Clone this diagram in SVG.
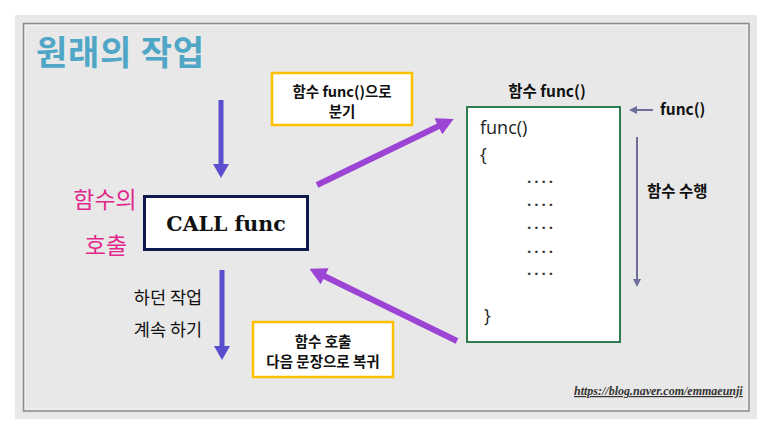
<svg xmlns="http://www.w3.org/2000/svg" width="773" height="435" viewBox="0 0 773 435">
  <style>
    .kr { font-family: "Noto Sans CJK KR", "Noto Sans", sans-serif; }
    .lbl { font-family: "Noto Sans CJK KR", "Noto Sans", sans-serif; font-size: 14.5px; font-weight: bold; fill: #111; text-anchor: middle; }
    .lbl15 { font-family: "Noto Sans CJK KR", "Noto Sans", sans-serif; font-size: 15.5px; font-weight: bold; fill: #111; }
    .hand { font-family: "Noto Sans CJK KR", sans-serif; text-anchor: middle; }
    .code { font-family: "Open Sans", "Noto Sans", sans-serif; font-size: 18px; fill: #222; }
    .dots { font-family: "Open Sans", sans-serif; font-size: 15px; font-weight: bold; fill: #333; letter-spacing: 3px; }
    .note { fill: #fff; stroke: #FFC000; stroke-width: 2.5; }
    .blue { stroke: #5B4ECC; stroke-width: 5; fill: none; }
    .purple { stroke: #9C44D4; stroke-width: 6; fill: none; }
    .slate { stroke: #6E6E9A; stroke-width: 2; fill: none; }
  </style>
  <defs>
    <marker id="headBlue" markerUnits="userSpaceOnUse" markerWidth="14" markerHeight="16" refX="2" refY="8" orient="auto">
      <path d="M0,0 L14,8 L0,16 z" fill="#5B4ECC"/>
    </marker>
    <marker id="headPurple" markerUnits="userSpaceOnUse" markerWidth="17" markerHeight="18" refX="3" refY="9" orient="auto">
      <path d="M0,0 L17,9 L0,18 z" fill="#9C44D4"/>
    </marker>
    <marker id="headSlate" markerUnits="userSpaceOnUse" markerWidth="8" markerHeight="8" refX="1" refY="4" orient="auto">
      <path d="M0,0 L8,4 L0,8 z" fill="#6E6E9A"/>
    </marker>
  </defs>

  <rect x="0" y="0" width="773" height="435" fill="#ffffff"/>
  <rect x="15" y="15" width="742" height="404" fill="#E8E8E8"/>
  <rect x="23.5" y="23.5" width="725.5" height="387.5" fill="none" stroke="#8A8A8A" stroke-width="1.5"/>
  <rect x="25.5" y="25.5" width="721.5" height="383.5" fill="none" stroke="#F4F4F4" stroke-width="1"/>

  <text x="36" y="65" class="kr" font-size="34" font-weight="bold" fill="#4FA6C6" textLength="168" lengthAdjust="spacing">원래의 작업</text>

  <g id="connectors">
    <line class="blue" x1="221" y1="100" x2="221" y2="166" marker-end="url(#headBlue)"/>
    <line class="blue" x1="222" y1="270" x2="222" y2="348" marker-end="url(#headBlue)"/>
    <line class="purple" x1="317" y1="185" x2="441" y2="125" marker-end="url(#headPurple)"/>
    <line class="purple" x1="457" y1="341" x2="322" y2="275" marker-end="url(#headPurple)"/>
    <line class="slate" x1="653" y1="110" x2="636" y2="110" marker-end="url(#headSlate)"/>
    <line class="slate" x1="637" y1="137" x2="637" y2="280" marker-end="url(#headSlate)"/>
  </g>

  <g id="note-branch">
    <rect class="note" x="272" y="73" width="140" height="52"/>
    <text class="lbl" x="342" y="97">함수 func()으로</text>
    <text class="lbl" x="342" y="117">분기</text>
  </g>

  <g id="call-label">
    <text class="hand" x="105" y="208" font-size="23" fill="#E0288A">함수의</text>
    <text class="hand" x="106" y="254" font-size="23" fill="#E0288A">호출</text>
  </g>

  <g id="call-func">
    <rect x="144.5" y="196.5" width="163" height="53" fill="#fff" stroke="#0E1A4E" stroke-width="3"/>
    <text x="226" y="231" font-family="DejaVu Serif, serif" font-weight="bold" font-size="20.5" text-anchor="middle" fill="#111">CALL func</text>
  </g>

  <g id="continue-label">
    <text class="hand" x="168" y="304" font-size="17.5" fill="#111">하던 작업</text>
    <text class="hand" x="168" y="336" font-size="17.5" fill="#111">계속 하기</text>
  </g>

  <g id="note-return">
    <rect class="note" x="253" y="322" width="140" height="55"/>
    <text class="lbl" x="323" y="347">함수 호출</text>
    <text class="lbl" x="323" y="367">다음 문장으로 복귀</text>
  </g>

  <g id="func-box">
    <text class="lbl15" x="547" y="97" text-anchor="middle">함수 func()</text>
    <rect x="467" y="107" width="153" height="235" fill="#fff" stroke="#2E7D4F" stroke-width="2"/>
    <text class="code" x="480" y="134">func()</text>
    <text class="code" x="480" y="161">{</text>
    <text class="dots" x="527" y="183">....</text>
    <text class="dots" x="527" y="206">....</text>
    <text class="dots" x="527" y="229">....</text>
    <text class="dots" x="527" y="253">....</text>
    <text class="dots" x="527" y="275">....</text>
    <text class="code" x="484" y="322">}</text>
  </g>

  <g id="func-entry">
    <text class="lbl15" x="660" y="115">func()</text>
  </g>

  <g id="func-run">
    <text class="lbl15" x="647" y="197">함수 수행</text>
  </g>

  <text x="574" y="395" font-family="Liberation Serif, serif" font-style="italic" font-weight="bold" font-size="12" fill="#333" text-decoration="underline">https://blog.naver.com/emmaeunji</text>
</svg>
